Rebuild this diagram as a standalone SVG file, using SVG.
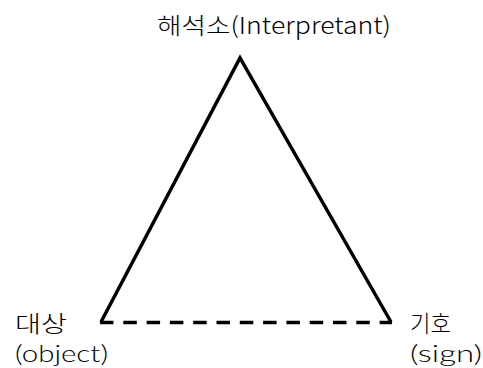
<svg xmlns="http://www.w3.org/2000/svg" width="483" height="368" viewBox="0 0 483 368">
<style>
.lbl{font-family:"Noto Sans CJK KR","Liberation Sans",sans-serif;font-size:23px;font-weight:300;fill:#000}
.lat{font-family:Lato,"Liberation Sans",sans-serif;font-size:23px;font-weight:300;fill:#000}
.edge{stroke:#000;stroke-width:3.5;fill:none;stroke-linejoin:miter}
</style>
<rect width="483" height="368" fill="#fff"/>
<g id="connectors">
<path class="edge" d="M101,322 L240,58 L391,322"/>
<path class="edge" d="M100,322.5 L392,322.5" stroke-dasharray="13.5 9.8"/>
</g>
<g id="interpretant"><text class="lbl" x="157" y="34" textLength="234" lengthAdjust="spacingAndGlyphs">해석소(Interpretant)</text></g>
<g id="object"><text class="lbl" x="15" y="332" textLength="52" lengthAdjust="spacingAndGlyphs">대상</text><text class="lat" x="15" y="362" textLength="93" lengthAdjust="spacingAndGlyphs">(object)</text></g>
<g id="sign"><text class="lbl" x="410" y="332" textLength="41" lengthAdjust="spacingAndGlyphs">기호</text><text class="lat" x="410" y="362" textLength="72" lengthAdjust="spacingAndGlyphs">(sign)</text></g>
</svg>
